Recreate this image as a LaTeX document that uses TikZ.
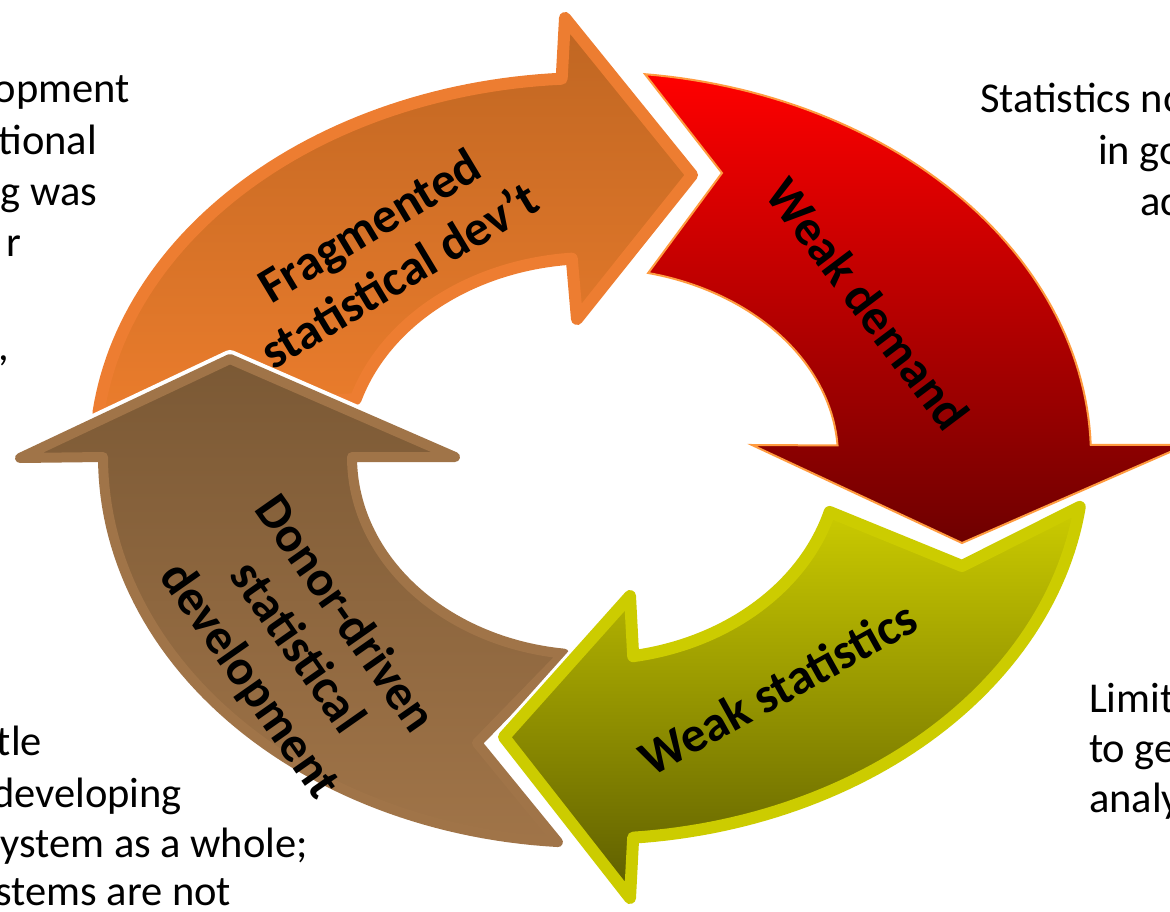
\documentclass[tikz,border=0pt]{standalone}
\usepackage{fontspec}
\setmainfont{Carlito}
\definecolor{OrBorder}{HTML}{ED7D31}
\definecolor{OrTop}{HTML}{BF6622}
\definecolor{OrBot}{HTML}{EA7C2C}
\definecolor{RdBorder}{HTML}{FF9B3F}
\definecolor{RdTop}{HTML}{FF0000}
\definecolor{RdBot}{HTML}{6E0000}
\definecolor{YlBorder}{HTML}{CCCC00}
\definecolor{YlTop}{HTML}{CCCC00}
\definecolor{YlBot}{HTML}{5C5C00}
\definecolor{BrBorder}{HTML}{A07448}
\definecolor{BrTop}{HTML}{7B5935}
\definecolor{BrBot}{HTML}{A07448}
\tikzset{
  halo/.style={draw=white, line width=#1, line join=round},
  orarrow/.style={draw=OrBorder, line width=12pt, line join=round, top color=OrTop, bottom color=OrBot},
  rdarrow/.style={draw=RdBorder, line width=2pt, line join=miter, top color=RdTop, bottom color=RdBot},
  ylarrow/.style={draw=YlBorder, line width=12pt, line join=round, top color=YlTop, bottom color=YlBot},
  brarrow/.style={draw=BrBorder, line width=10pt, line join=round, top color=BrTop, bottom color=BrBot},
  lbl/.style={font=\bfseries\fontsize{50}{58}\selectfont, align=center, inner sep=0pt, outer sep=0pt, text=black},
  side/.style={font=\fontsize{42.5}{50}\selectfont, inner sep=0pt, outer sep=0pt, text=black},
}
\def\orpath{plot[domain=186.8:266.5, samples=60, variable=\t] ({592+497*cos(\t)},{457+379*sin(\t)})
  -- (565,18) -- (692,175) -- (577,319)
  -- plot[domain=265.3:196.9, samples=60, variable=\t] ({592+247*cos(\t)},{457+199*sin(\t)}) -- cycle}
\def\rdpath{plot[domain=276.1:358.2, samples=60, variable=\t] ({592+499*cos(\t)},{457+385*sin(\t)})
  -- (1186,445) -- (962,543) -- (752,445)
  -- plot[domain=356.5:283.2, samples=60, variable=\t] ({592+246*cos(\t)},{457+189*sin(\t)})
  -- (722,173) -- cycle}
\def\ylpath{plot[domain=7.5:85.2, samples=60, variable=\t] ({592+492*cos(\t)},{457+382*sin(\t)})
  -- (630,898) -- (504,737) -- (630,596)
  -- plot[domain=80.4:15.8, samples=60, variable=\t] ({592+247*cos(\t)},{457+202*sin(\t)})
  -- (962,566) -- cycle}
\def\brpath{plot[domain=94:180, samples=60, variable=\t] ({592+489*cos(\t)},{457+386*sin(\t)})
  -- (20,458) -- (230,359) -- (455,457)
  -- plot[domain=180:96.7, samples=60, variable=\t] ({592+240*cos(\t)},{457+198*sin(\t)})
  -- (477,743) -- cycle}
\begin{document}
\begin{tikzpicture}[x=1pt,y=-1pt]
\useasboundingbox (0,0) rectangle (1170,912);
% side texts (cut by the page edge)
\node[side, anchor=base east] (tl1) at (130,103) {opment};
\node[side, anchor=base east] (tl2) at (97,155) {tional};
\node[side, anchor=base east] (tl3) at (97,206) {g was};
\node[side, anchor=base east] (tl4) at (21,257) {r};
\node[side, anchor=base east] (tl5) at (9,360) {,};
\node[side, anchor=base west] (tr1) at (980,113) {Statistics no};
\node[side, anchor=base west] (tr2) at (1098,165) {in go};
\node[side, anchor=base west] (tr3) at (1140,215) {ac};
\node[side, anchor=base east] (bl1) at (42,755) {tle};
\node[side, anchor=base east] (bl2) at (182,807) {developing};
\node[side, anchor=base east] (bl3) at (308,857) {system as a whole;};
\node[side, anchor=base east] (bl4) at (231,905) {stems are not};
\node[side, anchor=base west] (br1) at (1089,712) {Limit};
\node[side, anchor=base west] (br2) at (1089,762) {to ge};
\node[side, anchor=base west] (br3) at (1089,812) {analy};
% arrows
\path[orarrow] \orpath;
\path[halo=4pt] \rdpath;
\path[rdarrow] \rdpath;
\path[halo=18pt] \brpath;
\path[brarrow] \brpath;
\path[halo=18pt] \ylpath;
\path[ylarrow] \ylpath;
% labels
\node[lbl, rotate=31] (frag) at (384,250) {Fragmented\\statistical dev’t};
\node[lbl, rotate=-53] (demand) at (868,304) {Weak demand};
\node[lbl, rotate=29] (stats) at (778,688) {Weak statistics};
\node[lbl, rotate=-55] (donor) at (296,648) {Donor-driven\\statistical\\development};
\end{tikzpicture}
\end{document}
